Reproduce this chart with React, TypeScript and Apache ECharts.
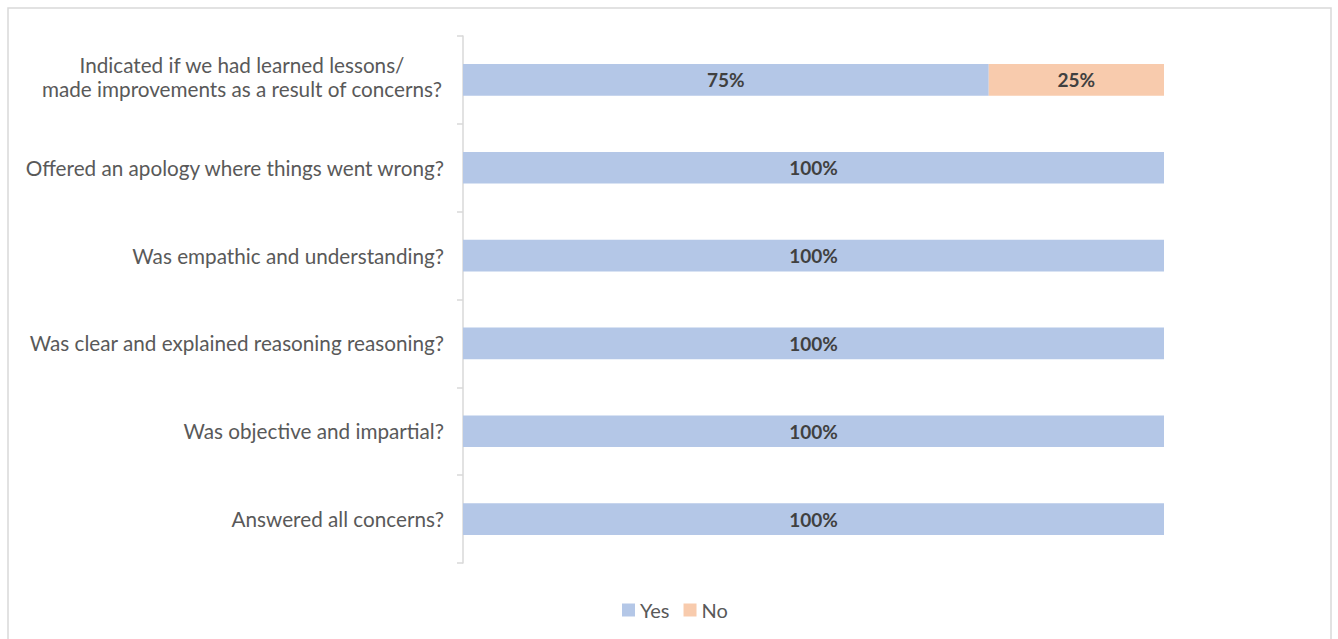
import React, { useEffect, useRef } from "react";
import * as echarts from "echarts";

const categories = [
  "Indicated if we had learned lessons/\nmade improvements as a result of concerns?",
  "Offered an apology where things went wrong?",
  "Was empathic and understanding?",
  "Was clear and explained reasoning reasoning?",
  "Was objective and impartial?",
  "Answered all concerns?",
];
const yesValues = [0.75, 1, 1, 1, 1, 1];
const noValues = [0.25, 0, 0, 0, 0, 0];
const seriesNames = ["Yes", "No"];
const colors = ["#B4C7E7", "#F8CBAD"];

const FONT = "Lato, 'Open Sans', sans-serif";

export default function App() {
  const ref = useRef<HTMLDivElement>(null);
  useEffect(() => {
    if (!ref.current) return;
    const chart = echarts.init(ref.current, undefined, { renderer: "svg" });
    const labelFmt = (p: any) => (p.value > 0 ? Math.round(p.value * 100) + "%" : "");
    const labelStyle = {
      show: true,
      position: "inside",
      formatter: labelFmt,
      color: "#404040",
      fontWeight: "bold",
      fontSize: 19,
      fontFamily: FONT,
    };
    const yData = categories.map((c) =>
      c.indexOf("\n") >= 0 ? { value: c, textStyle: { padding: [0, 0, 6, 0] } } : c
    );
    chart.setOption({
      animation: false,
      backgroundColor: "#ffffff",
      textStyle: { fontFamily: FONT },
      graphic: [
        {
          type: "rect",
          shape: { x: 8, y: 8, width: 1323, height: 640 },
          style: { fill: "none", stroke: "#D9D9D9", lineWidth: 1.5 },
          silent: true,
        },
      ],
      legend: {
        data: seriesNames,
        left: 617,
        top: 595,
        icon: "rect",
        itemWidth: 13,
        itemHeight: 13,
        itemGap: 14,
        textStyle: { color: "#595959", fontSize: 20, fontFamily: FONT },
      },
      grid: { left: 463, right: 174, top: 36, bottom: 76, containLabel: false },
      xAxis: {
        type: "value",
        min: 0,
        max: 1,
        show: false,
      },
      yAxis: {
        type: "category",
        inverse: true,
        data: yData,
        axisLine: { show: true, lineStyle: { color: "#D9D9D9", width: 1.5 } },
        axisTick: { show: true, length: 6, lineStyle: { color: "#D9D9D9", width: 1.5 } },
        axisLabel: {
          margin: 19,
          color: "#595959",
          fontSize: 20.7,
          fontFamily: FONT,
          formatter: (v: string) => {
            if (v.indexOf("\n") >= 0) {
              return v
                .split("\n")
                .map((s) => "{c|" + s + "}")
                .join("\n");
            }
            return v;
          },
          rich: {
            c: {
              width: 404,
              align: "center",
              color: "#595959",
              fontSize: 20.7,
              fontFamily: FONT,
              lineHeight: 24,
            },
          },
        },
      },
      series: [
        {
          name: seriesNames[0],
          type: "bar",
          stack: "total",
          data: yesValues,
          barCategoryGap: "64%",
          itemStyle: { color: colors[0] },
          label: labelStyle,
        },
        {
          name: seriesNames[1],
          type: "bar",
          stack: "total",
          data: noValues,
          itemStyle: { color: colors[1] },
          label: labelStyle,
        },
      ],
    });
    return () => chart.dispose();
  }, []);
  return (
    <div
      ref={ref}
      style={{ position: "fixed", left: 0, top: 0, width: 1338, height: 639 }}
    />
  );
}
